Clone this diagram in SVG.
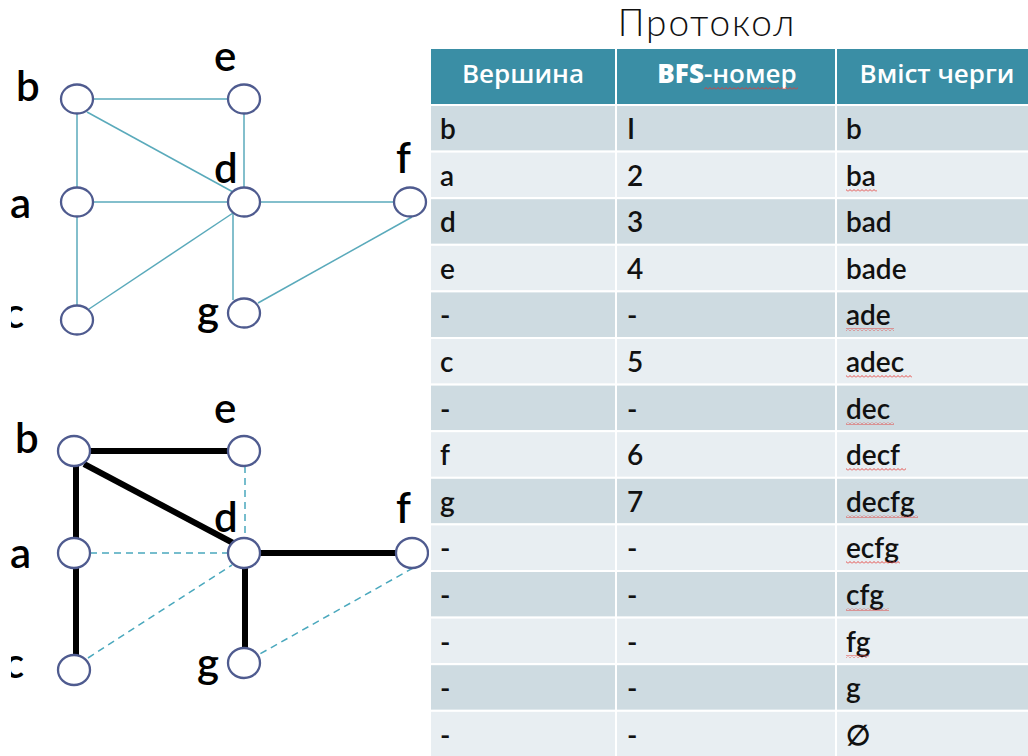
<svg xmlns="http://www.w3.org/2000/svg" width="1028" height="756" viewBox="0 0 1028 756">
<style>
.edge{stroke:#5aaabb;stroke-width:1.5;fill:none}
.dash{stroke:#4aa8bd;stroke-width:1.5;stroke-dasharray:7 5;fill:none}
.tree{stroke:#000;stroke-width:6;fill:none}
.node{fill:#fff;stroke:#4f5b8f;stroke-width:2.3}
.lbl{font-family:Lato,"Open Sans",sans-serif;font-size:42px;font-weight:600;fill:#000}
.title{font-family:Lato,"Open Sans",sans-serif;font-size:37px;font-weight:300;fill:#111}
.hdr{fill:#3a8ea5;stroke:#fff;stroke-width:2}
.dk{fill:#cedbe1;stroke:#fff;stroke-width:2}
.lt{fill:#e8eef2;stroke:#fff;stroke-width:2}
.ht{font-family:"Open Sans",Lato,sans-serif;font-size:26px;font-weight:600;fill:#fff;text-anchor:middle}
.t{font-family:Lato,"Open Sans",sans-serif;font-size:28px;font-weight:600;fill:#111}
.sq{fill:url(#squig)}
</style>
<defs>
<pattern id="squig" patternUnits="userSpaceOnUse" width="4" height="3">
<path d="M0 2.5 L2 0.5 L4 2.5" stroke="#e53935" stroke-width="0.9" fill="none"/>
</pattern>
<clipPath id="clipc"><rect x="11" y="0" width="40" height="756"/></clipPath>
</defs>
<rect x="0" y="0" width="1028" height="756" fill="#fff"/>

<!-- top graph -->
<g id="top-edges">
<line class="edge" x1="93" y1="99" x2="228" y2="99"/>
<line class="edge" x1="77" y1="114" x2="77" y2="187"/>
<line class="edge" x1="87" y1="112" x2="233" y2="192"/>
<line class="edge" x1="244" y1="114" x2="244" y2="187"/>
<line class="edge" x1="93" y1="202" x2="228" y2="202"/>
<line class="edge" x1="77" y1="217" x2="77" y2="305"/>
<line class="edge" x1="89" y1="309" x2="233" y2="213"/>
<line class="edge" x1="260" y1="202" x2="394" y2="202"/>
<line class="edge" x1="233" y1="214" x2="233" y2="300"/>
<line class="edge" x1="412" y1="217" x2="258" y2="303"/>
</g>
<g id="top-b"><ellipse class="node" cx="77" cy="99" rx="16" ry="14.5"/><text class="lbl" x="16" y="101">b</text></g>
<g id="top-e"><ellipse class="node" cx="244" cy="99" rx="16" ry="14.5"/><text class="lbl" x="214" y="71">e</text></g>
<g id="top-a"><ellipse class="node" cx="77" cy="202" rx="16" ry="14.5"/><text class="lbl" x="10" y="218">a</text></g>
<g id="top-d"><ellipse class="node" cx="244" cy="202" rx="16" ry="14.5"/><text class="lbl" x="214" y="183">d</text></g>
<g id="top-f"><ellipse class="node" cx="410" cy="202" rx="16" ry="14.5"/><text class="lbl" x="396" y="173">f</text></g>
<g id="top-c"><ellipse class="node" cx="77" cy="320" rx="16" ry="14.5"/><text class="lbl" x="4" y="328" clip-path="url(#clipc)">c</text></g>
<g id="top-g"><ellipse class="node" cx="244" cy="313" rx="16" ry="14.5"/><text class="lbl" x="197" y="326">g</text></g>

<!-- bottom graph -->
<g id="bottom-edges">
<line class="dash" x1="245" y1="466" x2="245" y2="538"/>
<line class="dash" x1="90" y1="553" x2="228" y2="553"/>
<line class="dash" x1="88" y1="658" x2="232" y2="565"/>
<line class="dash" x1="413" y1="568" x2="258" y2="655"/>
<line class="tree" x1="90" y1="451" x2="228" y2="451"/>
<line class="tree" x1="76" y1="466" x2="76" y2="538"/>
<line class="tree" x1="84" y1="464" x2="235" y2="544"/>
<line class="tree" x1="76" y1="568" x2="76" y2="655"/>
<line class="tree" x1="260" y1="553" x2="396" y2="553"/>
<line class="tree" x1="245" y1="568" x2="245" y2="648"/>
</g>
<g id="bot-b"><ellipse class="node" cx="74" cy="451" rx="16" ry="15"/><text class="lbl" x="15" y="453">b</text></g>
<g id="bot-e"><ellipse class="node" cx="244" cy="451" rx="16" ry="15"/><text class="lbl" x="214" y="423">e</text></g>
<g id="bot-a"><ellipse class="node" cx="74" cy="553" rx="16" ry="15"/><text class="lbl" x="10" y="568">a</text></g>
<g id="bot-d"><ellipse class="node" cx="244" cy="553" rx="16" ry="15"/><text class="lbl" x="214" y="532">d</text></g>
<g id="bot-f"><ellipse class="node" cx="412" cy="553" rx="16" ry="15"/><text class="lbl" x="396" y="523">f</text></g>
<g id="bot-c"><ellipse class="node" cx="74" cy="670" rx="16" ry="15"/><text class="lbl" x="4" y="678" clip-path="url(#clipc)">c</text></g>
<g id="bot-g"><ellipse class="node" cx="244" cy="663" rx="16" ry="15"/><text class="lbl" x="197" y="678">g</text></g>

<!-- table -->
<g id="table">
<text class="title" x="707" y="36" text-anchor="middle" letter-spacing="2">Протокол</text>
<rect class="hdr" x="430" y="48" width="186" height="57"/>
<rect class="hdr" x="616" y="48" width="220" height="57"/>
<rect class="hdr" x="836" y="48" width="196" height="57"/>
<text class="ht" x="523" y="83">Вершина</text>
<text class="ht" x="727" y="83"><tspan font-weight="800">BFS</tspan>-номер</text>
<text class="ht" x="937" y="83">Вміст черги</text>
<rect class="sq" x="704" y="87" width="94" height="3"/>

<g id="rows">
<rect class="dk" x="430" y="105" width="186" height="46.6"/><rect class="dk" x="616" y="105" width="220" height="46.6"/><rect class="dk" x="836" y="105" width="196" height="46.6"/>
<rect class="lt" x="430" y="151.6" width="186" height="46.6"/><rect class="lt" x="616" y="151.6" width="220" height="46.6"/><rect class="lt" x="836" y="151.6" width="196" height="46.6"/>
<rect class="dk" x="430" y="198.2" width="186" height="46.6"/><rect class="dk" x="616" y="198.2" width="220" height="46.6"/><rect class="dk" x="836" y="198.2" width="196" height="46.6"/>
<rect class="lt" x="430" y="244.8" width="186" height="46.6"/><rect class="lt" x="616" y="244.8" width="220" height="46.6"/><rect class="lt" x="836" y="244.8" width="196" height="46.6"/>
<rect class="dk" x="430" y="291.4" width="186" height="46.6"/><rect class="dk" x="616" y="291.4" width="220" height="46.6"/><rect class="dk" x="836" y="291.4" width="196" height="46.6"/>
<rect class="lt" x="430" y="338" width="186" height="46.6"/><rect class="lt" x="616" y="338" width="220" height="46.6"/><rect class="lt" x="836" y="338" width="196" height="46.6"/>
<rect class="dk" x="430" y="384.6" width="186" height="46.6"/><rect class="dk" x="616" y="384.6" width="220" height="46.6"/><rect class="dk" x="836" y="384.6" width="196" height="46.6"/>
<rect class="lt" x="430" y="431.2" width="186" height="46.6"/><rect class="lt" x="616" y="431.2" width="220" height="46.6"/><rect class="lt" x="836" y="431.2" width="196" height="46.6"/>
<rect class="dk" x="430" y="477.8" width="186" height="46.6"/><rect class="dk" x="616" y="477.8" width="220" height="46.6"/><rect class="dk" x="836" y="477.8" width="196" height="46.6"/>
<rect class="lt" x="430" y="524.4" width="186" height="46.6"/><rect class="lt" x="616" y="524.4" width="220" height="46.6"/><rect class="lt" x="836" y="524.4" width="196" height="46.6"/>
<rect class="dk" x="430" y="571" width="186" height="46.6"/><rect class="dk" x="616" y="571" width="220" height="46.6"/><rect class="dk" x="836" y="571" width="196" height="46.6"/>
<rect class="lt" x="430" y="617.6" width="186" height="46.6"/><rect class="lt" x="616" y="617.6" width="220" height="46.6"/><rect class="lt" x="836" y="617.6" width="196" height="46.6"/>
<rect class="dk" x="430" y="664.2" width="186" height="46.6"/><rect class="dk" x="616" y="664.2" width="220" height="46.6"/><rect class="dk" x="836" y="664.2" width="196" height="46.6"/>
<rect class="lt" x="430" y="710.8" width="186" height="46.6"/><rect class="lt" x="616" y="710.8" width="220" height="46.6"/><rect class="lt" x="836" y="710.8" width="196" height="46.6"/>
</g>

<g id="cells">
<text class="t" x="440" y="139">b</text><text class="t" x="627" y="139">I</text><text class="t" x="846" y="139">b</text>
<text class="t" x="440" y="186">a</text><text class="t" x="627" y="186">2</text><text class="t" x="846" y="186">ba</text>
<text class="t" x="440" y="232">d</text><text class="t" x="627" y="232">3</text><text class="t" x="846" y="232">bad</text>
<text class="t" x="440" y="279">e</text><text class="t" x="627" y="279">4</text><text class="t" x="846" y="279">bade</text>
<text class="t" x="440" y="325">-</text><text class="t" x="627" y="325">-</text><text class="t" x="846" y="325">ade</text>
<text class="t" x="440" y="372">c</text><text class="t" x="627" y="372">5</text><text class="t" x="846" y="372">adec</text>
<text class="t" x="440" y="419">-</text><text class="t" x="627" y="419">-</text><text class="t" x="846" y="419">dec</text>
<text class="t" x="440" y="465">f</text><text class="t" x="627" y="465">6</text><text class="t" x="846" y="465">decf</text>
<text class="t" x="440" y="512">g</text><text class="t" x="627" y="512">7</text><text class="t" x="846" y="512">decfg</text>
<text class="t" x="440" y="558">-</text><text class="t" x="627" y="558">-</text><text class="t" x="846" y="558">ecfg</text>
<text class="t" x="440" y="605">-</text><text class="t" x="627" y="605">-</text><text class="t" x="846" y="605">cfg</text>
<text class="t" x="440" y="652">-</text><text class="t" x="627" y="652">-</text><text class="t" x="846" y="652">fg</text>
<text class="t" x="440" y="698">-</text><text class="t" x="627" y="698">-</text><text class="t" x="846" y="698">g</text>
<text class="t" x="440" y="745">-</text><text class="t" x="627" y="745">-</text><text class="t" x="846" y="745" font-weight="300">∅</text>
</g>
<g id="squiggles">
<rect class="sq" x="846" y="189" width="31" height="3"/>
<rect class="sq" x="846" y="328" width="48" height="3"/>
<rect class="sq" x="846" y="375" width="66" height="3"/>
<rect class="sq" x="846" y="422" width="48" height="3"/>
<rect class="sq" x="846" y="468" width="60" height="3"/>
<rect class="sq" x="846" y="515" width="72" height="3"/>
<rect class="sq" x="846" y="561" width="54" height="3"/>
<rect class="sq" x="846" y="608" width="43" height="3"/>
<rect class="sq" x="846" y="655" width="23" height="3"/>
</g>
</g>
</svg>
